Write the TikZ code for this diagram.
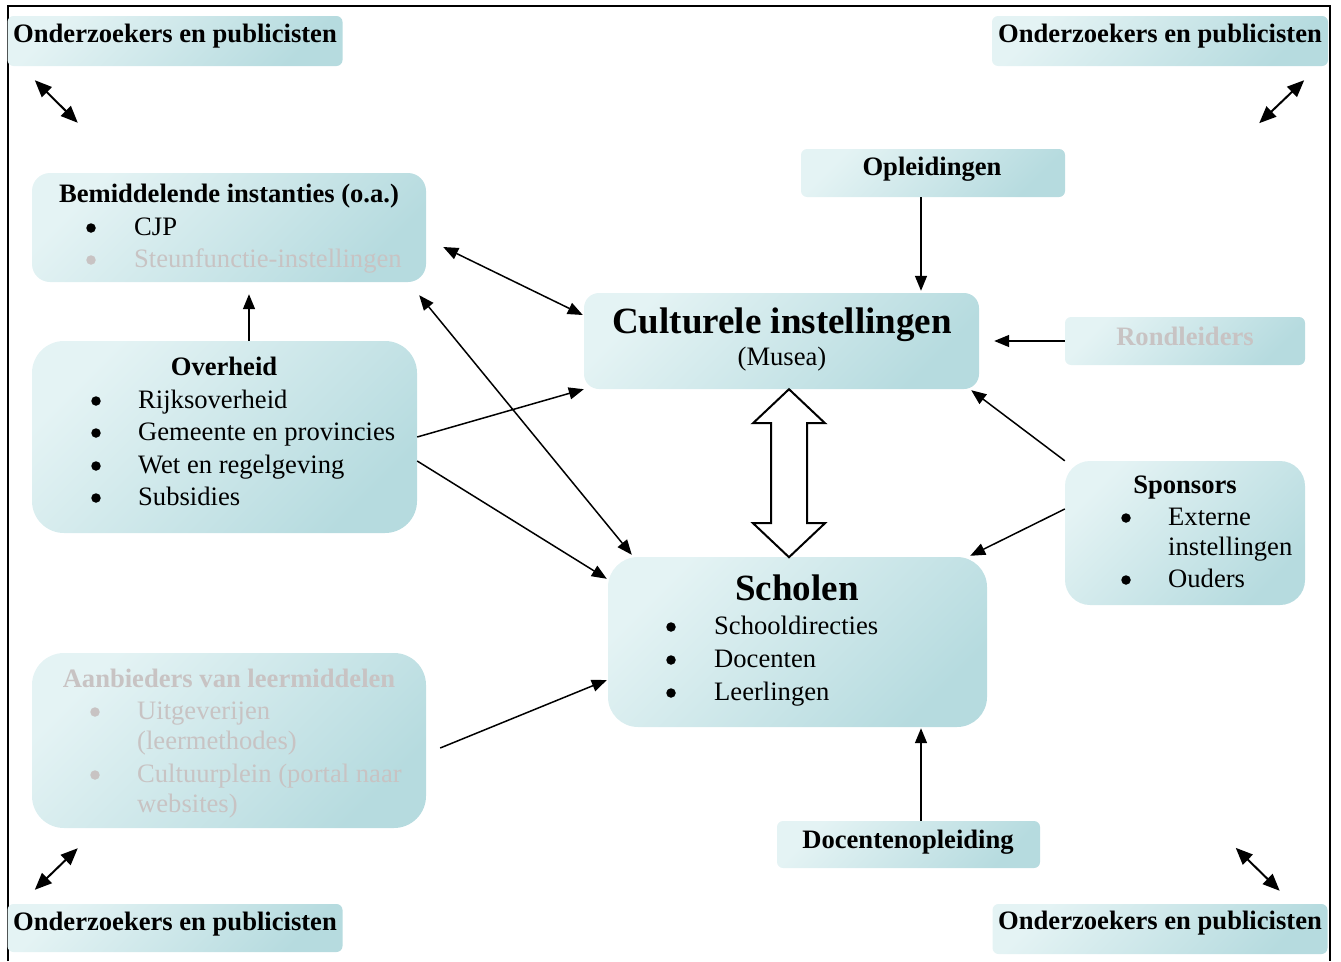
\documentclass[tikz,border=0pt]{standalone}
\usepackage{fontspec}
\setmainfont{Liberation Serif}
\usetikzlibrary{arrows.meta}
\definecolor{tilelight}{HTML}{E4F3F4}
\definecolor{tiledark}{HTML}{B6DBDF}
\definecolor{fadedgray}{HTML}{C8C3C3}
\tikzset{
  tile/.style={rounded corners=#1, top color=tilelight, bottom color=tiledark, shading angle=45, draw=none, inner sep=0pt},
  tile/.default=6pt,
  txt/.style={inner sep=0pt, font=\fontsize{26.6}{32}\selectfont},
  hd/.style={txt, font=\fontsize{26.6}{32}\selectfont\bfseries, anchor=base},
  big/.style={txt, font=\fontsize{37}{40}\selectfont\bfseries, anchor=base},
  itm/.style={txt, anchor=base west},
  dot/.style={circle, fill=black, inner sep=0pt, minimum size=9.5pt},
  faded/.style={text=fadedgray},
  fadeddot/.style={dot, fill=fadedgray},
  arr/.style={-{Triangle[length=15pt,width=12pt]}, line width=1.5pt},
  arrs/.style={{Triangle[length=15pt,width=12pt]}-{Triangle[length=15pt,width=12pt]}, line width=1.5pt},
  dbl/.style={{Triangle[length=17pt,width=14pt]}-{Triangle[length=17pt,width=14pt]}, line width=2pt},
}
\begin{document}
\begin{tikzpicture}[x=1pt, y=-1pt]
\useasboundingbox (0,0) rectangle (1341,961);
% frame
\draw[line width=2pt] (8,961) -- (8,6) -- (1330,6) -- (1330,961);

% corners
\node[tile, minimum width=335pt, minimum height=50pt] (ondtl) at (175,41) {};
\node[hd, anchor=base west] (ondtl-t) at (13,42) {Onderzoekers en publicisten};
\node[tile, minimum width=336pt, minimum height=50pt] (ondtr) at (1160,41) {};
\node[hd, anchor=base west] (ondtr-t) at (998,42) {Onderzoekers en publicisten};
\node[tile, minimum width=335pt, minimum height=48pt] (ondbl) at (175,928) {};
\node[hd, anchor=base west] (ondbl-t) at (13,930) {Onderzoekers en publicisten};
\node[tile, minimum width=335pt, minimum height=50pt] (ondbr) at (1160,929) {};
\node[hd, anchor=base west] (ondbr-t) at (998,929) {Onderzoekers en publicisten};

% Bemiddelende instanties
\node[tile=18pt, minimum width=394pt, minimum height=109pt] (bemid) at (229,227.5) {};
\node[hd] (bemid-t) at (229,202) {Bemiddelende instanties (o.a.)};
\node[dot] (bemid-d1) at (91,228) {};
\node[itm] (bemid-1) at (134,235) {CJP};
\node[fadeddot] (bemid-d2) at (91,260) {};
\node[itm, faded] (bemid-2) at (134,267) {Steunfunctie-instellingen};

% Overheid
\node[tile=32pt, minimum width=385pt, minimum height=192pt] (over) at (224.5,437) {};
\node[hd] (over-t) at (224,375) {Overheid};
\node[dot] (over-d1) at (96,401) {};
\node[itm] (over-1) at (138,408) {Rijksoverheid};
\node[dot] (over-d2) at (96,433) {};
\node[itm] (over-2) at (138,440) {Gemeente en provincies};
\node[dot] (over-d3) at (96,466) {};
\node[itm] (over-3) at (138,473) {Wet en regelgeving};
\node[dot] (over-d4) at (96,498) {};
\node[itm] (over-4) at (138,505) {Subsidies};

% Aanbieders van leermiddelen
\node[tile=32pt, minimum width=394pt, minimum height=175pt] (aanb) at (229,740.5) {};
\node[hd, faded] (aanb-t) at (229,687) {Aanbieders van leermiddelen};
\node[fadeddot] (aanb-d1) at (95,712) {};
\node[itm, faded] (aanb-1) at (137,719) {Uitgeverijen};
\node[itm, faded] (aanb-1b) at (137,749) {(leermethodes)};
\node[fadeddot] (aanb-d2) at (95,775) {};
\node[itm, faded] (aanb-2) at (137,782) {Cultuurplein (portal naar};
\node[itm, faded] (aanb-2b) at (137,812) {websites)};

% Culturele instellingen
\node[tile=15pt, minimum width=395pt, minimum height=96pt] (cult) at (781.5,341) {};
\node[big] (cult-t) at (782,333) {Culturele instellingen};
\node[txt, anchor=base] (cult-s) at (782,365) {(Musea)};

% Scholen
\node[tile=30pt, minimum width=379pt, minimum height=170pt] (schol) at (797.5,642) {};
\node[big] (schol-t) at (797,600) {Scholen};
\node[dot] (schol-d1) at (671,627) {};
\node[itm] (schol-1) at (714,634) {Schooldirecties};
\node[dot] (schol-d2) at (671,660) {};
\node[itm] (schol-2) at (714,667) {Docenten};
\node[dot] (schol-d3) at (671,693) {};
\node[itm] (schol-3) at (714,700) {Leerlingen};

% Opleidingen, Rondleiders, Docentenopleiding
\node[tile, minimum width=264pt, minimum height=48pt] (oplei) at (933,173) {};
\node[hd] (oplei-t) at (932,175) {Opleidingen};
\node[tile, minimum width=240pt, minimum height=48pt] (rond) at (1185,341) {};
\node[hd, faded] (rond-t) at (1185,345) {Rondleiders};
\node[tile, minimum width=263pt, minimum height=47pt] (docop) at (908.5,844.5) {};
\node[hd] (docop-t) at (908,848) {Docentenopleiding};

% Sponsors
\node[tile=25pt, minimum width=240pt, minimum height=144pt] (spons) at (1185,533) {};
\node[hd] (spons-t) at (1185,493) {Sponsors};
\node[dot] (spons-d1) at (1126,518) {};
\node[itm] (spons-1) at (1168,525) {Externe};
\node[itm] (spons-1b) at (1168,555) {instellingen};
\node[dot] (spons-d2) at (1126,580) {};
\node[itm] (spons-2) at (1168,587) {Ouders};

% corner arrows
\draw[dbl] ([xshift=27.5pt,yshift=-14pt]ondtl.south west) -- ([xshift=46pt,yshift=50pt]bemid.north west);
\draw[dbl] ([xshift=-24pt,yshift=-14pt]ondtr.south east) -- ([xshift=-69pt,yshift=-57pt]ondtr.south east);
\draw[dbl] ([xshift=27.5pt,yshift=14pt]ondbl.north west) -- ([xshift=46pt,yshift=-20pt]aanb.south west);
\draw[dbl] ([xshift=-48pt,yshift=13pt]ondbr.north east) -- ([xshift=-92pt,yshift=56pt]ondbr.north east);

% connectors
\draw[arr] ([xshift=24.5pt]over.north) -- ([xshift=20pt,yshift=-12pt]bemid.south);
\draw[arrs] ([xshift=17pt,yshift=-19.5pt]bemid.east) -- ([xshift=-1pt,yshift=26pt]cult.west);
\draw[arrs] ([xshift=-7pt,yshift=-13pt]bemid.south east) -- ([xshift=24pt,yshift=2pt]schol.north west);
\draw[arr] (over.east) -- (cult.south west);
\draw[arr] ([yshift=-24pt]over.east) -- ([xshift=-1pt,yshift=-22pt]schol.north west);
\draw[arr] ([xshift=14pt,yshift=-7.5pt]aanb.east) -- ([xshift=-1pt,yshift=-38pt]schol.west);
\draw[arr] ([xshift=-12pt]oplei.south) -- ([xshift=-12pt,yshift=2pt]oplei.south |- cult.north);
\draw[arr, shorten >=15pt] (rond.west) -- (cult.east);
\draw[arr] (spons.north west) -- ([xshift=-8pt,yshift=-1pt]cult.south east);
\draw[arr] ([yshift=24pt]spons.west) -- ([xshift=-17pt,yshift=1pt]schol.north east);
\draw[arr] ([xshift=12.5pt]docop.north) -- ([xshift=12.5pt,yshift=-1pt]docop.north |- schol.south);

% hollow double arrow
\draw[line width=2pt, fill=white, line join=miter] ([xshift=7.5pt]cult.south) -- ++(36pt,-34pt) -- ++(-18pt,0pt) -- ++(0pt,-100pt) -- ++(18pt,0pt) -- ++(-36pt,-34pt) -- ++(-36pt,34pt) -- ++(18pt,0pt) -- ++(0pt,100pt) -- ++(-18pt,0pt) -- cycle;
\end{tikzpicture}
\end{document}
